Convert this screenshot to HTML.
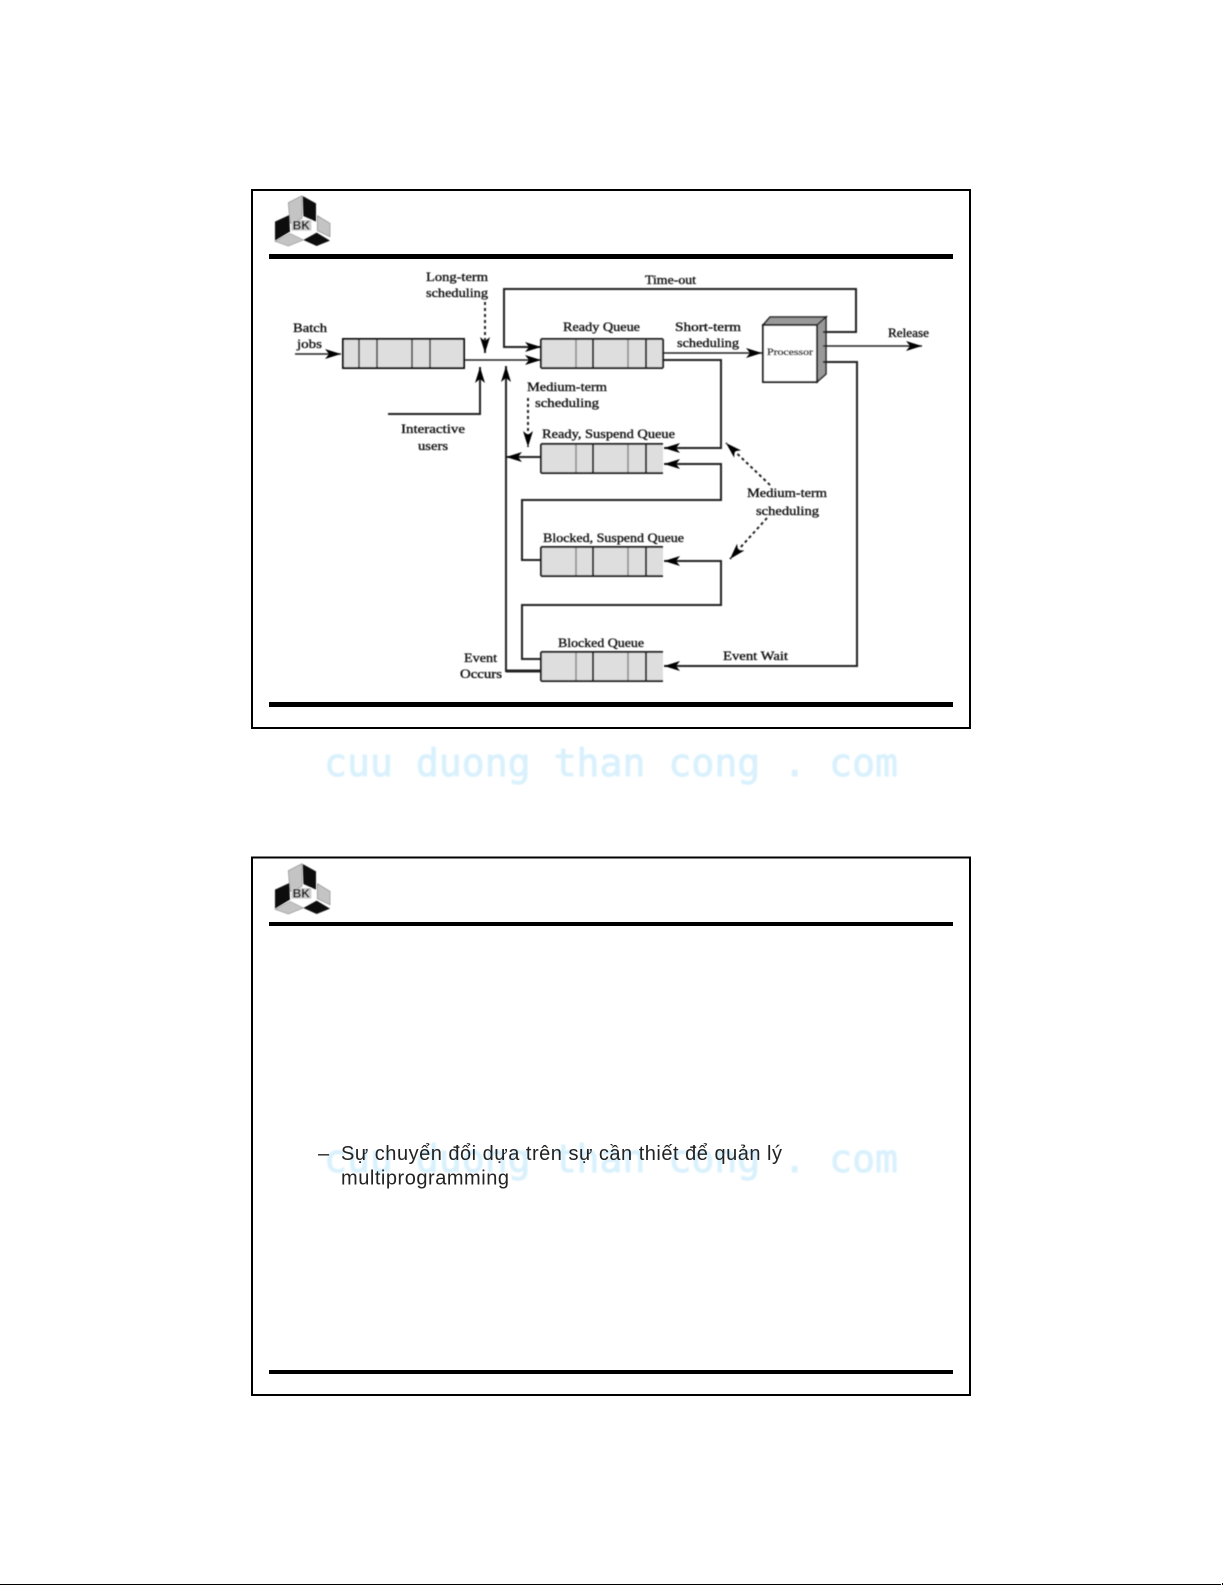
<!DOCTYPE html>
<html><head><meta charset="utf-8"><title>Process scheduling queues</title>
<style>
html,body{margin:0;padding:0;background:#fff;width:1225px;height:1585px;overflow:hidden}
svg{display:block;position:absolute;left:0;top:0}
.t{font-family:"Liberation Serif",serif;font-size:13px;fill:#111;stroke:#111;stroke-width:.35}
.wm{font-family:"DejaVu Sans Mono","Liberation Mono",monospace;font-size:38px;fill:#d9f1fd;stroke:#d9f1fd;stroke-width:.9}
.b{font-family:"Liberation Sans",sans-serif;font-size:20px;fill:#222}
.l{fill:none;stroke:#222;stroke-width:2}
.d{fill:none;stroke:#222;stroke-width:2;stroke-dasharray:3 3}
</style></head><body>
<svg width="1225" height="1585" viewBox="0 0 1225 1585" xmlns="http://www.w3.org/2000/svg">
<defs>
<filter id="s" x="-5%" y="-5%" width="110%" height="110%"><feGaussianBlur stdDeviation="0.65"/></filter>
<filter id="w" x="-5%" y="-20%" width="110%" height="140%"><feGaussianBlur stdDeviation="0.7"/></filter>
<marker id="a" markerUnits="userSpaceOnUse" markerWidth="20" markerHeight="14" refX="18" refY="7" orient="auto">
<polygon points="18,7 2,2 6,7 2,12" fill="#000"/></marker>
<g id="logo" transform="translate(240,180) scale(.3333)">
<polygon points="145,68 186,47 186,115 150,130" fill="#c4c4c4" stroke="#888" stroke-width="2"/>
<polygon points="188,48 228,70 228,125 190,108" fill="#111"/>
<polygon points="105,125 148,105 150,155 105,182" fill="#111"/>
<polygon points="232,107 270,130 270,170 232,152" fill="#c4c4c4" stroke="#888" stroke-width="2"/>
<polygon points="105,184 150,160 190,180 145,198" fill="#c4c4c4" stroke="#999" stroke-width="2"/>
<polygon points="190,180 230,158 270,182 230,198" fill="#111"/>
<rect x="154" y="120" width="60" height="32" fill="#ccc"/>
<text x="184" y="149" text-anchor="middle" font-family="Liberation Sans,sans-serif" font-weight="bold" font-size="36" fill="#000">BK</text>
</g>
<g id="q">
<rect x="0" y="0" width="122" height="29" fill="#dedede"/>
<path d="M0 0V29" stroke="#222" stroke-width="2"/>
<path d="M35 0V29M87 0V29" stroke="#888" stroke-width="1.5"/>
<path d="M52 0V29M105 0V29" stroke="#111" stroke-width="2"/>
<path d="M0 0H122M0 29H122" stroke="#222" stroke-width="2"/>
</g>
</defs>

<rect width="1225" height="1585" fill="#fff"/>

<!-- slide frames -->
<rect x="252" y="190" width="718" height="538" fill="#fff" stroke="#000" stroke-width="2"/>
<rect x="269" y="254" width="684" height="5" fill="#000"/>
<rect x="269" y="702" width="684" height="5" fill="#000"/>

<rect x="252" y="857.5" width="718" height="537.5" fill="#fff" stroke="#000" stroke-width="2"/>
<rect x="269" y="922" width="684" height="4" fill="#000"/>
<rect x="269" y="1370" width="684" height="4" fill="#000"/>

<g filter="url(#s)"><use href="#logo"/></g>
<g filter="url(#s)" transform="translate(0,668)"><use href="#logo"/></g>

<!-- diagram -->
<g filter="url(#s)">
<rect x="343" y="339" width="121" height="29" fill="#dedede"/>
<path d="M359 339V368M377 339V368M412 339V368M430 339V368" stroke="#333" stroke-width="1.5"/>
<rect x="343" y="339" width="121" height="29" fill="none" stroke="#111" stroke-width="2"/>

<use href="#q" x="541" y="339"/>
<path d="M663 339V368" stroke="#222" stroke-width="2"/>
<use href="#q" x="541" y="444"/>
<use href="#q" x="541" y="547"/>
<use href="#q" x="541" y="652"/>

<!-- processor -->
<polygon points="763,325 770,317 826,317 817,325" fill="#999" stroke="#222" stroke-width="1.5"/>
<polygon points="817,325 826,317 826,374 817,382" fill="#999" stroke="#222" stroke-width="1.5"/>
<rect x="763" y="325" width="54" height="57" fill="#fff" stroke="#222" stroke-width="2"/>

<!-- connectors -->
<path class="l" style="stroke-width:1.5" d="M295 354H341" marker-end="url(#a)"/>
<path class="l" style="stroke-width:1.5" d="M464 360H541" marker-end="url(#a)"/>
<path class="l" d="M388 414H480V367" marker-end="url(#a)"/>
<path class="l" d="M540 671H506V366" marker-end="url(#a)"/>
<path class="l" style="stroke-width:3" d="M540 671H506"/>
<path class="l" d="M823 332H856V289H504V347H541" marker-end="url(#a)"/>
<path class="l" style="stroke-width:1.5" d="M663 353H762" marker-end="url(#a)"/>
<path class="l" d="M663 360H721V448H664" marker-end="url(#a)"/>
<path class="l" d="M540 560H522V500H721V464H664" marker-end="url(#a)"/>
<path class="l" d="M540 659H522V605H721V561H664" marker-end="url(#a)"/>
<path class="l" d="M823 362H857V666H664" marker-end="url(#a)"/>
<path class="l" style="stroke-width:1.5" d="M823 346H922" marker-end="url(#a)"/>
<path class="l" d="M541 457H506" marker-end="url(#a)"/>

<!-- dashed -->
<path class="d" d="M485 302V353" marker-end="url(#a)"/>
<path class="d" d="M528 398V447" marker-end="url(#a)"/>
<path class="d" d="M770 485L726 443" marker-end="url(#a)"/>
<path class="d" d="M767 518L730 559" marker-end="url(#a)"/>

<!-- labels -->
<text class="t" x="426" y="281" textLength="62" lengthAdjust="spacingAndGlyphs">Long-term</text>
<text class="t" x="426" y="297" textLength="62" lengthAdjust="spacingAndGlyphs">scheduling</text>
<text class="t" x="293" y="332" textLength="34" lengthAdjust="spacingAndGlyphs">Batch</text>
<text class="t" x="297" y="348" textLength="25" lengthAdjust="spacingAndGlyphs">jobs</text>
<text class="t" x="645" y="284" textLength="51" lengthAdjust="spacingAndGlyphs">Time-out</text>
<text class="t" x="563" y="331" textLength="77" lengthAdjust="spacingAndGlyphs">Ready Queue</text>
<text class="t" x="675" y="331" textLength="66" lengthAdjust="spacingAndGlyphs">Short-term</text>
<text class="t" x="677" y="347" textLength="62" lengthAdjust="spacingAndGlyphs">scheduling</text>
<text class="t" x="888" y="337" textLength="41" lengthAdjust="spacingAndGlyphs">Release</text>
<text class="t" style="font-size:9px" x="767" y="355" textLength="46" lengthAdjust="spacingAndGlyphs">Processor</text>
<text class="t" x="527" y="391" textLength="80" lengthAdjust="spacingAndGlyphs">Medium-term</text>
<text class="t" x="535" y="407" textLength="64" lengthAdjust="spacingAndGlyphs">scheduling</text>
<text class="t" x="401" y="433" textLength="64" lengthAdjust="spacingAndGlyphs">Interactive</text>
<text class="t" x="418" y="450" textLength="30" lengthAdjust="spacingAndGlyphs">users</text>
<text class="t" x="542" y="438" textLength="133" lengthAdjust="spacingAndGlyphs">Ready, Suspend Queue</text>
<text class="t" x="747" y="497" textLength="80" lengthAdjust="spacingAndGlyphs">Medium-term</text>
<text class="t" x="756" y="515" textLength="63" lengthAdjust="spacingAndGlyphs">scheduling</text>
<text class="t" x="543" y="542" textLength="141" lengthAdjust="spacingAndGlyphs">Blocked, Suspend Queue</text>
<text class="t" x="558" y="647" textLength="86" lengthAdjust="spacingAndGlyphs">Blocked Queue</text>
<text class="t" x="723" y="660" textLength="65" lengthAdjust="spacingAndGlyphs">Event Wait</text>
<text class="t" x="464" y="662" textLength="33" lengthAdjust="spacingAndGlyphs">Event</text>
<text class="t" x="460" y="678" textLength="42" lengthAdjust="spacingAndGlyphs">Occurs</text>
</g>

<!-- watermarks -->
<g filter="url(#w)">
<text class="wm" x="324" y="776" textLength="574" lengthAdjust="spacingAndGlyphs">cuu duong than cong . com</text>
<text class="wm" x="324" y="1172" textLength="574" lengthAdjust="spacingAndGlyphs">cuu duong than cong . com</text>
</g>

<!-- body text -->
<text class="b" x="318" y="1160">–</text>
<text class="b" x="341" y="1160" textLength="441" lengthAdjust="spacing">Sự chuyển đổi dựa trên sự cần thiết để quản lý</text>
<text class="b" x="341" y="1184.5" textLength="168" lengthAdjust="spacing">multiprogramming</text>

<!-- page edge -->
<path d="M0 1584.5H1221" stroke="#000" stroke-width="1"/>
<path d="M1222.5 1583V1585" stroke="#000" stroke-width="1"/>
</svg>
</body></html>
